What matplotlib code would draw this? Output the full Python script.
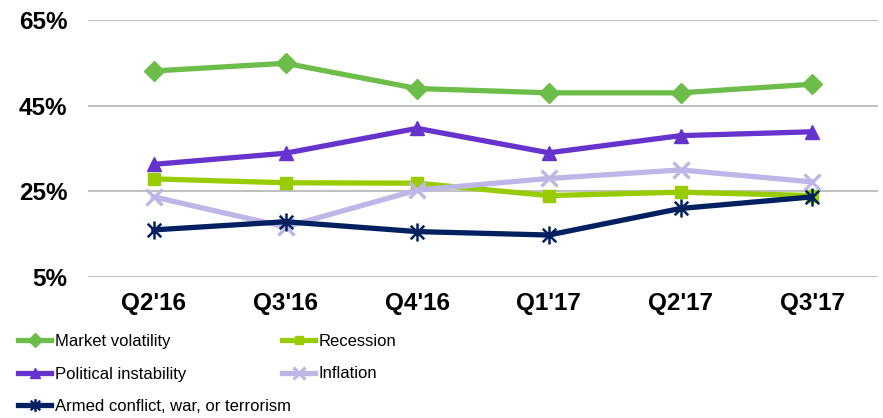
"""Quarterly risk concerns line chart (Q2'16 - Q3'17)."""

import matplotlib
matplotlib.use("Agg")
import matplotlib.pyplot as plt
from matplotlib.path import Path

plt.rcParams["font.family"] = ["Liberation Sans", "DejaVu Sans"]

# ── Data ──────────────────────────────────────────────────────────────────────
quarters = ["Q2'16", "Q3'16", "Q4'16", "Q1'17", "Q2'17", "Q3'17"]

market_volatility = [53.1, 54.9, 49.0, 48.0, 48.0, 50.0]
recession = [27.9, 27.0, 26.9, 24.0, 24.8, 24.0]
political_instability = [31.3, 33.9, 39.7, 34.0, 38.0, 38.9]
inflation = [23.7, 16.7, 25.3, 28.0, 30.0, 27.2]
armed_conflict = [16.0, 17.9, 15.6, 14.8, 21.0, 23.7]

y_ticks = [5, 25, 45, 65]

# Excel-style star: an X with a vertical bar through it
star = Path(
    [(0, -1), (0, 1), (-0.75, -0.75), (0.75, 0.75), (-0.75, 0.75), (0.75, -0.75)],
    [Path.MOVETO, Path.LINETO, Path.MOVETO, Path.LINETO, Path.MOVETO, Path.LINETO],
)

# ── Plot ──────────────────────────────────────────────────────────────────────
fig = plt.figure(figsize=(8.83, 4.18), dpi=100)
ax = fig.add_axes([88 / 883, 1 - 277 / 418, 790 / 883, 257 / 418])

x = range(len(quarters))
lw = 3.8

l_mv, = ax.plot(x, market_volatility, color="#6CBD4A", lw=lw, marker="D",
                ms=10, label="Market volatility", zorder=3)
l_rec, = ax.plot(x, recession, color="#99CC00", lw=lw, marker="s",
                 ms=9, label="Recession", zorder=3)
l_pol, = ax.plot(x, political_instability, color="#6633CC", lw=lw, marker="^",
                 ms=10, label="Political instability", zorder=3)
l_inf, = ax.plot(x, inflation, color="#BEB6E6", lw=lw, marker="x",
                 ms=12, mew=2.4, label="Inflation", zorder=3)
l_arm, = ax.plot(x, armed_conflict, color="#00205F", lw=lw, marker=star,
                 ms=13, mew=1.8, label="Armed conflict, war, or terrorism",
                 zorder=3)

ax.set_xlim(-0.5, len(quarters) - 0.5)
ax.set_ylim(5, 65)
ax.set_yticks(y_ticks)
ax.set_yticklabels([f"{t}%" for t in y_ticks])
ax.set_xticks(list(x))
ax.set_xticklabels(quarters)
ax.tick_params(length=0, labelsize=17.5)
for lab in ax.get_xticklabels() + ax.get_yticklabels():
    lab.set_fontweight("bold")
ax.tick_params(axis="x", pad=11)
ax.tick_params(axis="y", pad=15)

ax.grid(axis="y", color="#C0C0C0", lw=1.5, zorder=0)
ax.set_axisbelow(True)
for s in ax.spines.values():
    s.set_visible(False)

legend_kw = dict(loc="upper left", frameon=False, fontsize=12,
                 borderpad=0, borderaxespad=0, handlelength=2.0,
                 handletextpad=0.2, labelspacing=1.05, markerscale=0.7)
fig.legend(handles=[l_mv, l_pol, l_arm], bbox_to_anchor=(18 / 883, 1 - 334 / 418),
           **legend_kw)
fig.legend(handles=[l_rec, l_inf], bbox_to_anchor=(282 / 883, 1 - 334 / 418),
           **legend_kw)

fig.savefig("out.png", dpi=100)
